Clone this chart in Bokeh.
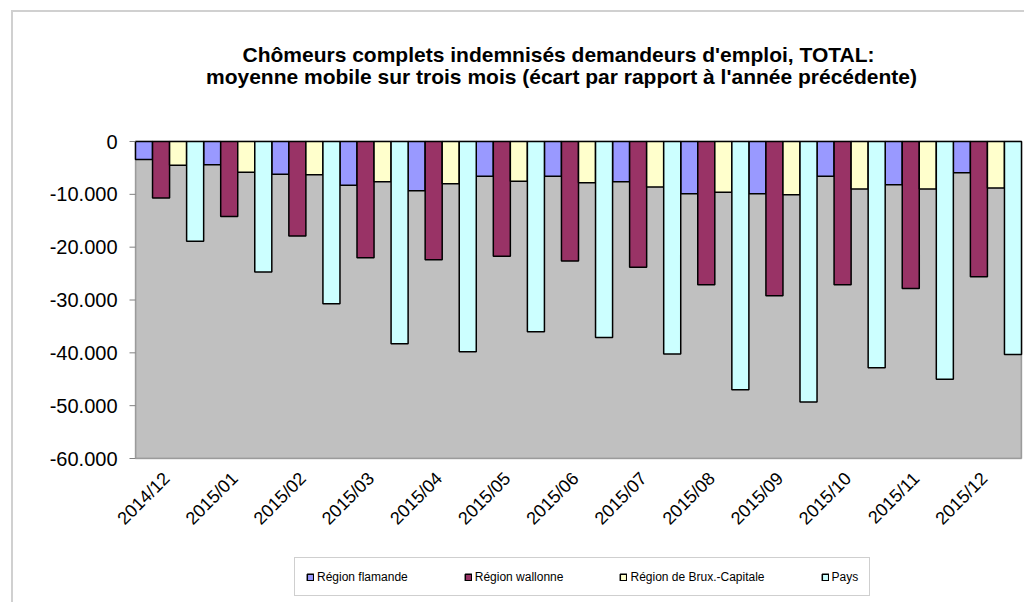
from math import pi
import numpy as np
from bokeh.plotting import figure
from bokeh.models import (ColumnDataSource, Range1d, Legend, LegendItem, BoxAnnotation, Label)
from bokeh.core.properties import value
from bokeh.embed import file_html
from bokeh.resources import INLINE

months = ["2014/12", "2015/01", "2015/02", "2015/03", "2015/04", "2015/05", "2015/06",
          "2015/07", "2015/08", "2015/09", "2015/10", "2015/11", "2015/12"]
flamande = [-3400, -4400, -6200, -8300, -9300, -6600, -6600, -7600, -9900, -9900, -6600, -8200, -5900]
wallonne = [-10700, -14200, -17900, -22000, -22400, -21700, -22600, -23800, -27100, -29200, -27100, -27800, -25600]
bruxelles = [-4500, -5800, -6300, -7600, -8000, -7500, -7800, -8600, -9600, -10100, -9000, -9000, -8800]
pays = [-18900, -24700, -30700, -38300, -39800, -36000, -37100, -40200, -47000, -49300, -42800, -45000, -40300]

series_names = ["Région flamande", "Région wallonne", "Région de Brux.-Capitale", "Pays"]
series_colors = ["#9999FF", "#993366", "#FFFFCC", "#CCFFFF"]
y_min, y_max = -60000, 0
y_ticks = [0, -10000, -20000, -30000, -40000, -50000, -60000]
y_tick_labels = ["0", "-10.000", "-20.000", "-30.000", "-40.000", "-50.000", "-60.000"]
title_line1 = "Chômeurs complets indemnisés demandeurs d'emploi, TOTAL:"
title_line2 = "moyenne mobile sur trois mois (écart par rapport à l'année précédente)"

FONT = "Liberation Sans"

# ---- layout in pixels: the frame is the whole canvas, the plot area sits inside it ----
W, H = 1024, 602
AREA_L, AREA_R, AREA_T, AREA_B = 135, 1021, 141, 458
n = len(months)
ux = n / (AREA_R - AREA_L)                 # data units per pixel (x)
uy = (y_max - y_min) / (AREA_B - AREA_T)   # data units per pixel (y)
x_range = Range1d(-AREA_L * ux, n + (W - AREA_R) * ux)
y_range = Range1d(y_min - (H - AREA_B) * uy, y_max + AREA_T * uy)

idx = np.arange(n)
source = ColumnDataSource(data=dict(month=months, xc=idx + 0.5, flamande=flamande,
                                    wallonne=wallonne, bruxelles=bruxelles, pays=pays))

p = figure(x_range=x_range, y_range=y_range, frame_width=W, frame_height=H,
           min_border=0, output_backend="svg", toolbar_location=None, tools="")
p.axis.visible = False
p.grid.visible = False
p.outline_line_color = None
p.background_fill_alpha = 0
p.border_fill_alpha = 0
# faint outer chart-area border (only its top and left edges are inside the window)
p.styles = {
    "background": ("linear-gradient(#d0d0d0, #d0d0d0) 11px 10px / 2px 100% no-repeat, "
                   "linear-gradient(#d0d0d0, #d0d0d0) 11px 10px / 100% 2px no-repeat, white"),
}

# grey plot area
p.add_layout(BoxAnnotation(left=0, right=n, top=y_max, bottom=y_min, level="underlay",
                           fill_color="#C0C0C0", fill_alpha=1,
                           line_color="black", line_width=1.5))

cols = ["flamande", "wallonne", "bruxelles", "pays"]
offsets = [-0.375, -0.125, 0.125, 0.375]
renderers = []
for col, off, color in zip(cols, offsets, series_colors):
    src = ColumnDataSource(data=dict(x=idx + 0.5 + off, v=source.data[col]))
    r = p.vbar(x="x", top=0, bottom="v", width=0.25, source=src,
               fill_color=color, line_color="black", line_width=1.5)
    renderers.append(r)

# y axis: ticks and labels
p.ray(x=0, y=y_ticks, length=6, length_units="screen", angle=pi,
      line_color="#808080", line_width=1)
p.text(x=0, y=y_ticks, text=y_tick_labels, x_offset=-18, text_align="right",
       text_baseline="middle", text_font=value(FONT), text_font_size="20px",
       text_color="black")

# category labels under the plot area, rotated 45 degrees
p.text(x="xc", y=y_min, text="month", source=source, angle=pi / 4,
       x_offset=-3, y_offset=17, text_align="right", text_baseline="middle",
       text_font=value(FONT), text_font_size="18px", text_color="black")

# title (frame-relative screen coords, y up from the bottom)
p.add_layout(Label(x=558, y=H - 54, x_units="screen", y_units="screen", text=title_line1,
                   text_align="center", text_baseline="middle", text_font=FONT,
                   text_font_size="21px", text_font_style="bold", text_color="black"))
p.add_layout(Label(x=561, y=H - 76, x_units="screen", y_units="screen", text=title_line2,
                   text_align="center", text_baseline="middle", text_font=FONT,
                   text_font_size="21px", text_font_style="bold", text_color="black"))

legend = Legend(items=[LegendItem(label=nm, renderers=[r]) for nm, r in zip(series_names, renderers)],
                orientation="horizontal", location=(294, 6),
                glyph_width=8, glyph_height=8, label_standoff=3, label_width=0, spacing=56,
                label_height=15, padding=11, margin=0,
                border_line_color="#a0a0a0", border_line_width=1,
                background_fill_color="white", background_fill_alpha=1,
                label_text_font=FONT, label_text_font_size="12px", label_text_color="black")
p.add_layout(legend, "center")

open("out.html", "w").write(file_html(p, INLINE))
